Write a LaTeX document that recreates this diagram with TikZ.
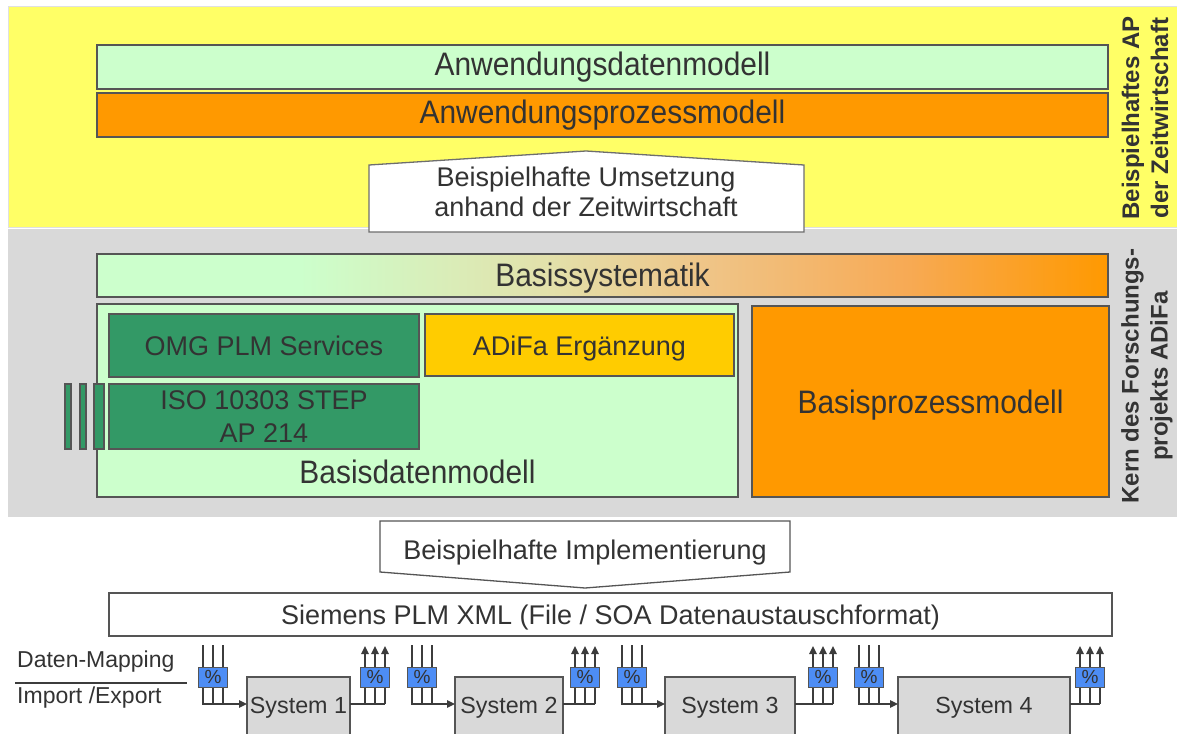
\documentclass[tikz,border=0pt]{standalone}
\usepackage{fontspec}
\setmainfont{Liberation Sans}
\newfontfamily\widefont[FakeStretch=0.92]{Liberation Sans}
\usetikzlibrary{arrows.meta}

\definecolor{txt}{HTML}{333333}
\definecolor{edge}{HTML}{555555}
\definecolor{wirec}{HTML}{3C3C3C}
\definecolor{bandyellow}{HTML}{FFFF66}
\definecolor{bandgray}{HTML}{D9D9D9}
\definecolor{lgreen}{HTML}{CCFFCC}
\definecolor{orng}{HTML}{FF9900}
\definecolor{dgreen}{HTML}{339966}
\definecolor{gold}{HTML}{FFCC00}
\definecolor{pctblue}{HTML}{4D8DF5}
\definecolor{sysgray}{HTML}{D9D9D9}
\definecolor{gradA}{HTML}{E3E0AA}
\definecolor{gradB}{HTML}{EFC588}
\definecolor{gradC}{HTML}{F7AA55}

% light green fading into orange, path spans 25bp..75bp
\pgfdeclarehorizontalshading{basisgrad}{100bp}{%
  color(0bp)=(lgreen); color(35bp)=(lgreen); color(47.5bp)=(gradA);
  color(55bp)=(gradB); color(65bp)=(gradC); color(75bp)=(orng); color(100bp)=(orng)}

\tikzset{
  box/.style={draw=edge, line width=1.5pt, inner sep=0pt, outer sep=0pt,
    anchor=north west, text=txt},
  big/.style={font=\widefont\fontsize{32.5}{36}\selectfont},
  mid/.style={font=\fontsize{27}{30}\selectfont},
  sysbox/.style={draw=edge, fill=sysgray, line width=1.4pt, inner sep=0pt,
    outer sep=0pt, anchor=north west, minimum height=62, text=txt,
    text height=10pt, text depth=0pt, font=\fontsize{23.3}{26}\selectfont},
  pct/.style={draw=edge, fill=pctblue, line width=1pt, inner sep=0pt,
    minimum width=29, minimum height=20, text=txt,
    text height=13.6pt, text depth=0pt, font=\fontsize{19}{20}\selectfont},
  wire/.style={draw=wirec, line width=1.3pt},
  tip/.style={-{Triangle[length=8pt,width=7.5pt]}},
  sidelabel/.style={rotate=90, align=center, text=txt,
    font=\bfseries\fontsize{24}{29}\selectfont},
}

\begin{document}
\begin{tikzpicture}[x=1pt, y=-1pt, text=txt, font=\fontsize{27}{30}\selectfont]
\useasboundingbox (0,0) rectangle (1177,733);
\fill[white] (0,0) rectangle (1177,733);

% background bands
\filldraw[fill=bandyellow, draw=black!12, line width=1pt] (8,7) rectangle (1180,227);
\fill[bandgray] (8,229) rectangle (1180,517);

% application layer
\node[box, big, fill=lgreen, minimum width=1011, minimum height=44,
  text height=17pt, text depth=0pt] (anwdaten) at (97,45) {Anwendungsdatenmodell};
\node[box, big, fill=orng, minimum width=1011, minimum height=44,
  text height=17pt, text depth=0pt] (anwproz) at (97,93) {Anwendungsprozessmodell};

% core layer
\node[box, big, shade, shading=basisgrad, minimum width=1011, minimum height=43,
  text height=21pt, text depth=0pt] (basissys) at (97,254) {Basissystematik};
\node[box, fill=lgreen, minimum width=641, minimum height=193] (basisdaten) at (97,304) {};
\node[anchor=base, inner sep=0pt, big] (basisdatentext) at (417.5,483) {Basisdatenmodell};
\node[box, mid, fill=dgreen, minimum width=310, minimum height=63,
  text height=19pt, text depth=0pt] (omg) at (109,314) {OMG PLM Services};
\node[box, mid, fill=gold, minimum width=309, minimum height=62,
  text height=20pt, text depth=0pt] (adifa) at (425,314) {ADiFa Ergänzung};
\node[box, fill=dgreen, minimum width=310, minimum height=65, align=center,
  font=\fontsize{27}{33}\selectfont] (iso) at (109,384) {ISO 10303 STEP\\AP 214};
\foreach \xa/\xb in {65/71, 80/86, 94/104}
  \filldraw[fill=dgreen, draw=edge, line width=1.2pt] (\xa,384) rectangle (\xb,449);
\node[box, big, fill=orng, minimum width=357, minimum height=191,
  text height=23pt, text depth=0pt] (basisproz) at (752,306) {Basisprozessmodell};

% upward arrow box between the layers
\filldraw[fill=white, draw=edge!85, line width=1.3pt]
  (369,232) -- (369,165) -- (586,151) -- (804,165) -- (804,232) -- cycle;
\node[align=center, inner sep=0pt, mid] (umsetzung) at (586,192)
  {Beispielhafte Umsetzung\\anhand der Zeitwirtschaft};

% side captions
\node[sidelabel] (capap) at (1145,118) {Beispielhaftes AP\\der Zeitwirtschaft};
\node[sidelabel] (capkern) at (1147,376) {Kern des Forschungs-\\projekts ADiFa};

% downward arrow box to the implementation
\filldraw[fill=white, draw=edge, line width=1.3pt]
  (380,521) -- (790,521) -- (790,572) -- (585,588) -- (380,572) -- cycle;
\node[anchor=base, inner sep=0pt, mid] (impl) at (585,559) {Beispielhafte Implementierung};

\node[box, mid, fill=white, minimum width=1003, minimum height=43,
  text height=19pt, text depth=0pt] (plmxml) at (109,593)
  {Siemens PLM XML (File / SOA Datenaustauschformat)};

% mapping legend
\node[anchor=base west, inner sep=0pt, font=\fontsize{23}{26}\selectfont] (mapping) at (17,667) {Daten-Mapping};
\node[anchor=base west, inner sep=0pt, font=\fontsize{23}{26}\selectfont] (impexp) at (17,703) {Import /Export};
\draw[wire, line width=1.2pt] (15,683) -- (187,683);

% systems with import and export bundles
\foreach \i/\L/\W/\ci/\co in {1/247/103/213/375, 2/455/108/422/585, 3/665/130/632/823, 4/898/172/869/1090}{
  \node[sysbox, minimum width=\W] (sys\i) at (\L,677) {System \i};
  \coordinate (inAt\i) at (\ci-10,645);  \coordinate (inAb\i) at (\ci-10,704);
  \coordinate (inBt\i) at (\ci,645);     \coordinate (inBb\i) at (\ci,704);
  \coordinate (inCt\i) at (\ci+10,645);  \coordinate (inCb\i) at (\ci+10,704);
  \coordinate (outAt\i) at (\co-10,646); \coordinate (outAb\i) at (\co-10,704);
  \coordinate (outBt\i) at (\co,646);    \coordinate (outBb\i) at (\co,704);
  \coordinate (outCt\i) at (\co+10,646); \coordinate (outCb\i) at (\co+10,704);
  \draw[wire, tip] (inAt\i) -- (inAb\i) -- (inAb\i -| sys\i.west);
  \draw[wire] (inBt\i) -- (inBb\i);
  \draw[wire] (inCt\i) -- (inCb\i);
  \draw[wire] (outAb\i -| sys\i.east) -- (outCb\i);
  \draw[wire, tip] (outAb\i) -- (outAt\i);
  \draw[wire, tip] (outBb\i) -- (outBt\i);
  \draw[wire, tip] (outCb\i) -- (outCt\i);
  \node[pct] (pin\i) at (\ci,677) {\%};
  \node[pct] (pout\i) at (\co,677) {\%};
}
\end{tikzpicture}
\end{document}
